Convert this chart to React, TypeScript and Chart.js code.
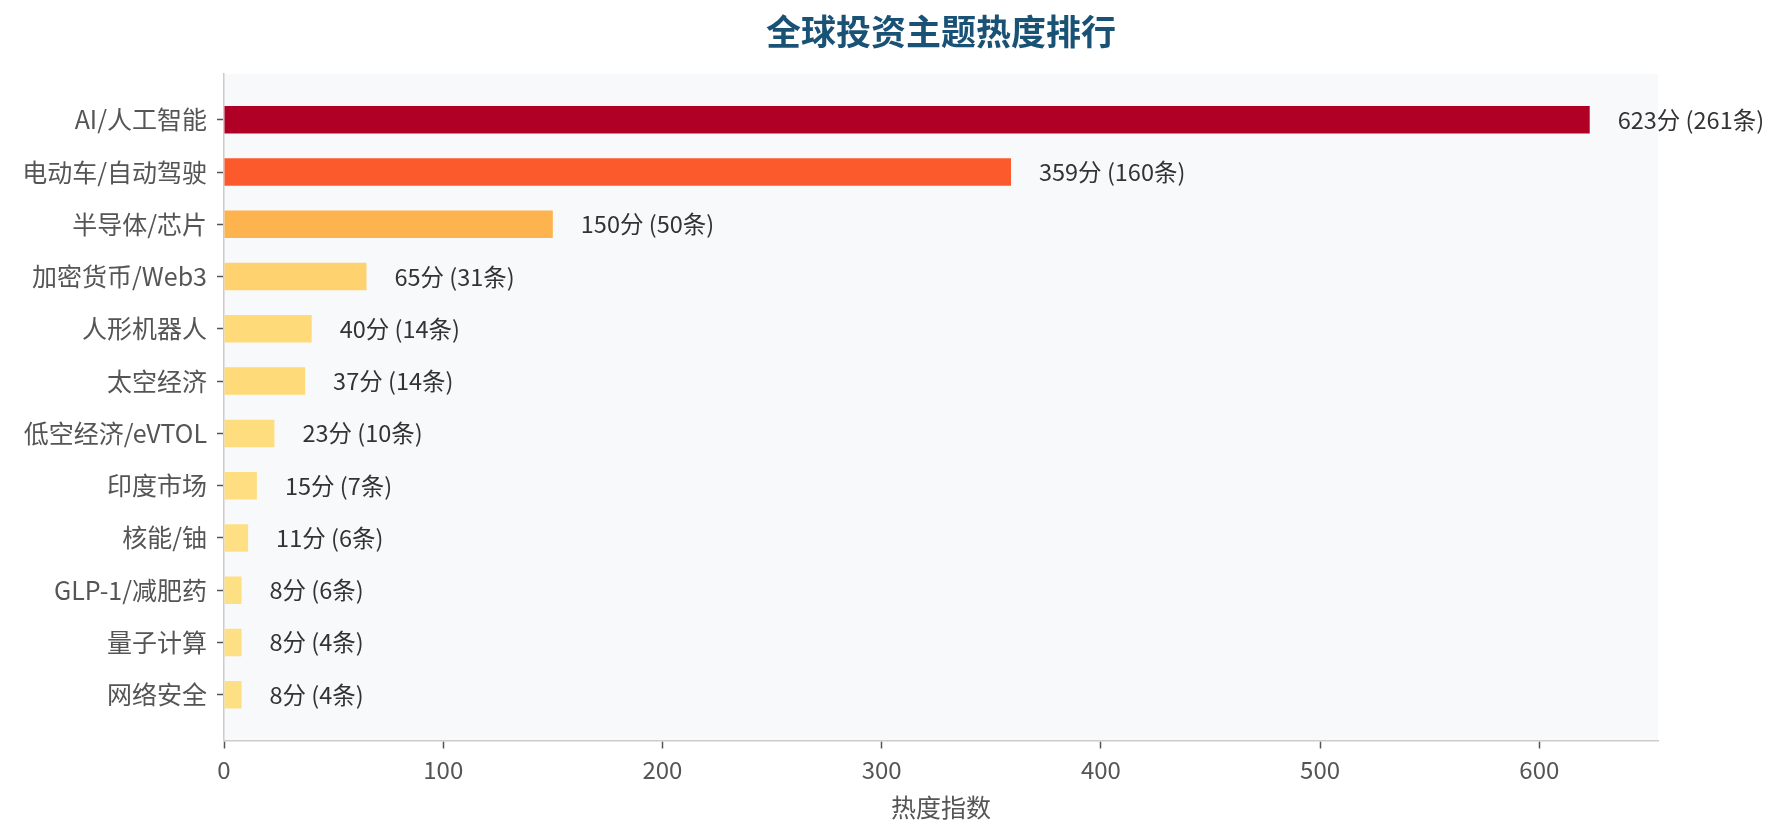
import React, { useEffect, useRef } from "react";
import { Chart, registerables } from "chart.js";

Chart.register(...registerables);

const categories = [
  "AI/人工智能",
  "电动车/自动驾驶",
  "半导体/芯片",
  "加密货币/Web3",
  "人形机器人",
  "太空经济",
  "低空经济/eVTOL",
  "印度市场",
  "核能/铀",
  "GLP-1/减肥药",
  "量子计算",
  "网络安全",
];
const scores = [623, 359, 150, 65, 40, 37, 23, 15, 11, 8, 8, 8];
const counts = [261, 160, 50, 31, 14, 14, 10, 7, 6, 6, 4, 4];
const xTicks = [0, 100, 200, 300, 400, 500, 600];

const FONT = '"Noto Sans CJK SC", "Noto Sans", sans-serif';

// matplotlib YlOrRd stops
const YLORRD = [
  "#ffffcc",
  "#ffeda0",
  "#fed976",
  "#feb24c",
  "#fd8d3c",
  "#fc4e2a",
  "#e31a1c",
  "#bd0026",
  "#800026",
];

function hexToRgb(hex: string): number[] {
  const n = parseInt(hex.replace("#", ""), 16);
  return [(n >> 16) & 255, (n >> 8) & 255, n & 255];
}

function ylOrRd(t: number): string {
  const pos = Math.min(Math.max(t, 0), 1) * (YLORRD.length - 1);
  const i = Math.min(Math.floor(pos), YLORRD.length - 2);
  const f = pos - i;
  const a = hexToRgb(YLORRD[i]);
  const b = hexToRgb(YLORRD[i + 1]);
  const c = a.map((v, k) => Math.round(v + (b[k] - v) * f));
  return `rgb(${c[0]}, ${c[1]}, ${c[2]})`;
}

const plotBackground = {
  id: "plotBackground",
  beforeDraw(chart: any) {
    const { ctx, chartArea } = chart;
    ctx.save();
    ctx.fillStyle = "#f8f9fa";
    ctx.fillRect(
      chartArea.left,
      chartArea.top,
      chartArea.right - chartArea.left,
      chartArea.bottom - chartArea.top
    );
    ctx.restore();
  },
};

const valueLabels = {
  id: "valueLabels",
  afterDatasetsDraw(chart: any) {
    const { ctx } = chart;
    const meta = chart.getDatasetMeta(0);
    ctx.save();
    ctx.font = `23.5px ${FONT}`;
    ctx.fillStyle = "#333333";
    ctx.textAlign = "left";
    ctx.textBaseline = "middle";
    meta.data.forEach((bar: any, i: number) => {
      ctx.fillText(`${scores[i]}分 (${counts[i]}条)`, bar.x + 28, bar.y);
    });
    ctx.restore();
  },
};

const chartTitle = {
  id: "chartTitle",
  afterDraw(chart: any) {
    const { ctx, chartArea } = chart;
    ctx.save();
    ctx.font = `bold 35px ${FONT}`;
    ctx.fillStyle = "#1a5276";
    ctx.textAlign = "center";
    ctx.textBaseline = "middle";
    ctx.fillText("全球投资主题热度排行", (chartArea.left + chartArea.right) / 2, 32);
    ctx.restore();
  },
};

const App = () => {
  const chartRef = useRef<HTMLCanvasElement | null>(null);

  useEffect(() => {
    document.body.style.margin = "0";
    if (!chartRef.current) return;
    const ctx = chartRef.current.getContext("2d");
    if (!ctx) return;

    const maxScore = Math.max(...scores);
    const tickFont = { family: FONT, size: 24 };
    const labelFont = { family: FONT, size: 25 };

    const chart = new Chart(ctx, {
      type: "bar",
      data: {
        datasets: [
          {
            label: "热度指数",
            data: scores.map((v, i) => ({ x: v, y: i })),
            backgroundColor: scores.map((v) => ylOrRd(0.2 + (0.7 * v) / maxScore)),
            borderWidth: 0,
            barPercentage: 0.526,
            categoryPercentage: 1,
          },
        ],
      },
      options: {
        indexAxis: "y",
        animation: false,
        responsive: false,
        layout: { padding: { left: 0, right: 123, top: 74, bottom: 0 } },
        plugins: {
          legend: { display: false },
          tooltip: { enabled: false },
          title: { display: false },
        },
        scales: {
          x: {
            type: "linear",
            min: 0,
            max: maxScore * 1.05,
            offset: false,
            afterBuildTicks: (scale: any) => {
              scale.ticks = xTicks.map((v) => ({ value: v }));
            },
            afterFit: (scale: any) => {
              scale.height = 97.5;
            },
            grid: {
              offset: false,
              drawOnChartArea: false,
              drawTicks: true,
              tickLength: 8,
              tickColor: "#555555",
              tickWidth: 1.5,
            },
            border: { color: "#cccccc", width: 1.5 },
            ticks: { color: "#555555", font: tickFont, padding: 7, maxRotation: 0 },
            title: {
              display: true,
              text: "热度指数",
              color: "#555555",
              font: labelFont,
              padding: { top: 0, bottom: 16 },
            },
          },
          y: {
            type: "linear",
            reverse: true,
            offset: false,
            min: -0.875,
            max: categories.length - 1 + 0.875,
            afterBuildTicks: (scale: any) => {
              scale.ticks = categories.map((_, i) => ({ value: i }));
            },
            afterFit: (scale: any) => {
              scale.width = 224;
            },
            grid: {
              offset: false,
              drawOnChartArea: false,
              drawTicks: true,
              tickLength: 7,
              tickColor: "#555555",
              tickWidth: 1.5,
            },
            border: { color: "#cccccc", width: 1.5 },
            ticks: {
              color: "#555555",
              font: labelFont,
              padding: 10,
              autoSkip: false,
              callback: (value: any) => categories[value as number] ?? "",
            },
          },
        },
      },
      plugins: [plotBackground, valueLabels, chartTitle],
    });

    return () => {
      chart.destroy();
    };
  }, []);

  return (
    <div style={{ width: 1781, height: 838, background: "#ffffff" }}>
      <canvas ref={chartRef} width={1781} height={838} style={{ display: "block" }} />
    </div>
  );
};

export default App;
